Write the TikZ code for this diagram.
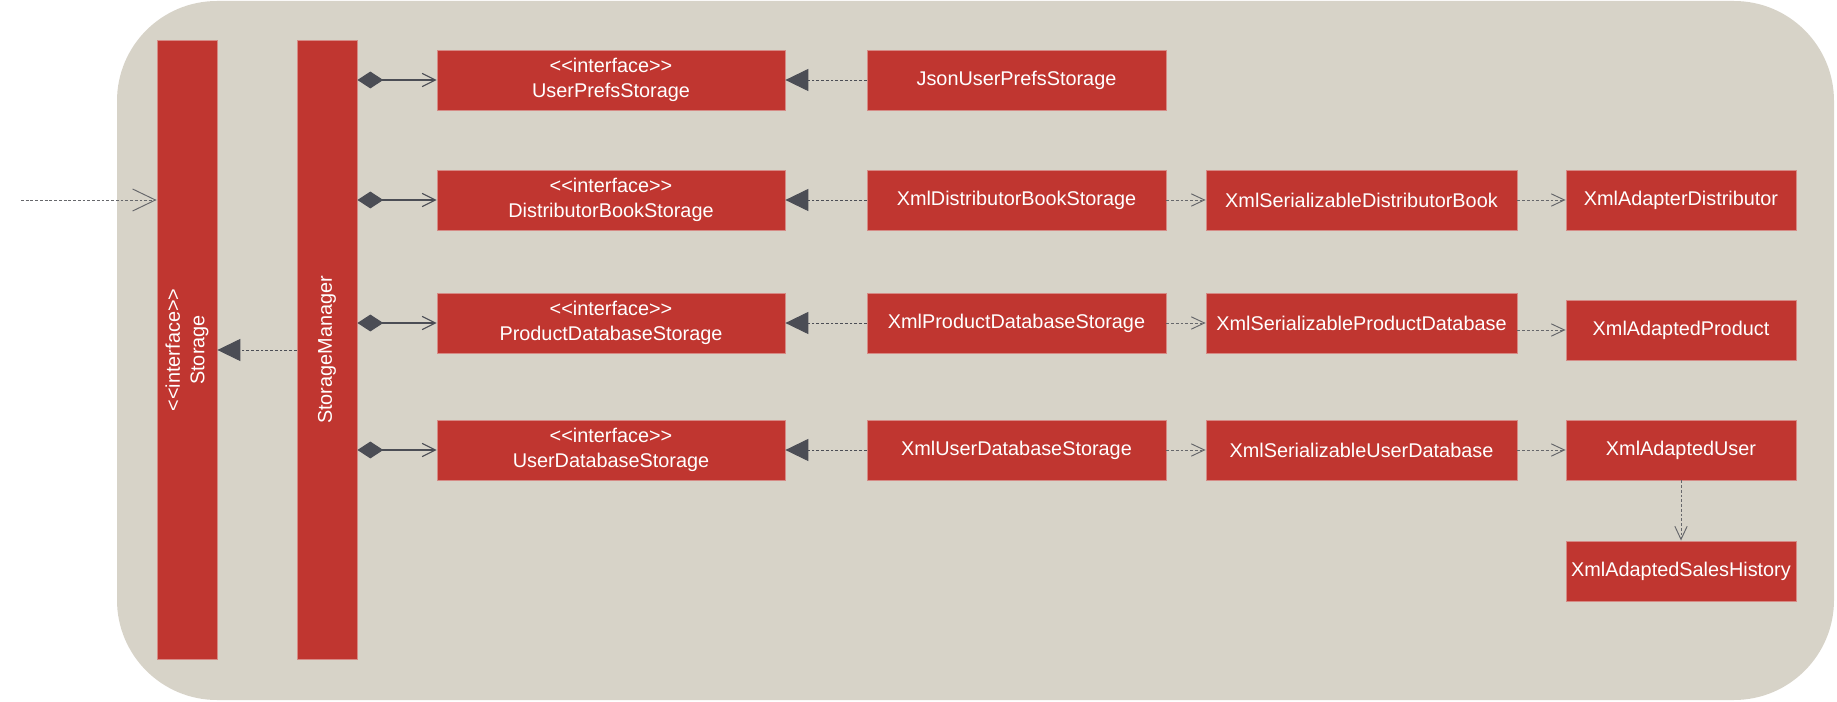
\documentclass[tikz,border=0pt]{standalone}
\usepackage{fontspec}
\newfontfamily\umlfont{Liberation Sans}
\usetikzlibrary{arrows.meta,positioning}
\definecolor{boxred}{HTML}{C03630}
\definecolor{boxline}{HTML}{D68A85}
\definecolor{panel}{HTML}{D7D3C8}
\definecolor{linkgray}{HTML}{4B4D55}
\definecolor{depgray}{HTML}{66676B}

\begin{document}
\begin{tikzpicture}[
		x=0.02cm, y=-0.02cm,
		cls/.style={rectangle, fill=boxred, draw=boxline, line width=0.5pt, text=white,
			inner sep=0pt, align=center, minimum height=1.2cm,
			font=\umlfont\fontsize{11.3}{14}\selectfont},
		tallcls/.style={cls, rotate=90, minimum width=12.4cm},
		iface/.style={cls, minimum width=6.96cm},
		impl/.style={cls, minimum width=5.98cm},
		serial/.style={cls, minimum width=6.22cm},
		adapted/.style={cls, minimum width=4.6cm},
		owns/.style={draw=linkgray, line width=0.65pt,
			{Diamond[length=14.7pt,width=9.6pt]}-{Straight Barb[length=7.5pt,width=7.5pt]}},
		realizes/.style={draw=linkgray, line width=0.55pt, dash pattern=on 1.6pt off 1.1pt,
			-{Triangle[length=13pt,width=12.5pt]}},
		uses/.style={draw=depgray, line width=0.55pt, dash pattern=on 1.6pt off 1.1pt,
			-{Straight Barb[length=7.5pt,width=7pt]}}
		]
		\useasboundingbox (0,0) rectangle (1837,702);
		\fill[panel, rounded corners=2cm] (117,1) rectangle (1834,700);
		
		\node[tallcls] (storage) at (187,350) {<<interface>>\\Storage};
		\node[tallcls] (manager) at (327,350) {StorageManager};
		
		\node[iface] (prefsIf) at (611,80) {<<interface>>\\UserPrefsStorage};
		\node[iface] (distIf) at (611,200) {<<interface>>\\DistributorBookStorage};
		\node[iface] (prodIf) at (611,323) {<<interface>>\\ProductDatabaseStorage};
		\node[iface] (userIf) at (611,450) {<<interface>>\\UserDatabaseStorage};
		
		\node[impl] (jsonPrefs) at (1016.5,80) {JsonUserPrefsStorage};
		\node[impl] (xmlDist) at (1016.5,200) {XmlDistributorBookStorage};
		\node[impl] (xmlProd) at (1016.5,323) {XmlProductDatabaseStorage};
		\node[impl] (xmlUser) at (1016.5,450) {XmlUserDatabaseStorage};
		
		\node[serial] (serDist) at (1361.5,200) {XmlSerializableDistributorBook};
		\node[serial] (serProd) at (1361.5,323) {XmlSerializableProductDatabase};
		\node[serial] (serUser) at (1361.5,450) {XmlSerializableUserDatabase};
		
		\node[adapted] (adaDist) at (1681,200) {XmlAdapterDistributor};
		\node[adapted] (adaProd) at (1681,330) {XmlAdaptedProduct};
		\node[adapted] (adaUser) at (1681,450) {XmlAdaptedUser};
		\node[adapted] (adaSales) at (1681,571) {XmlAdaptedSalesHistory};
		
		% calls into the component
		\coordinate (caller) at (21,200);
		\draw[uses, -{Straight Barb[length=13pt,width=12.5pt]}] (caller) -- (caller -| storage.north);
		\draw[realizes] (manager.north) -- (storage.south);
		
		\foreach \n in {prefsIf,distIf,prodIf,userIf}
		\draw[owns] (\n.west -| manager.south) -- (\n.west);
		
		\foreach \a/\b in {jsonPrefs/prefsIf,xmlDist/distIf,xmlProd/prodIf,xmlUser/userIf}
		\draw[realizes] (\a.west) -- (\b.east);
		
		\foreach \a/\b in {xmlDist/serDist,xmlProd/serProd,xmlUser/serUser,serDist/adaDist,serUser/adaUser}
		\draw[uses] (\a.east) -- (\b.west);
		\draw[uses] (serProd.east |- adaProd.west) -- (adaProd.west);
		\draw[uses] (adaUser.south) -- (adaSales.north);
	\end{tikzpicture}
\end{document}
